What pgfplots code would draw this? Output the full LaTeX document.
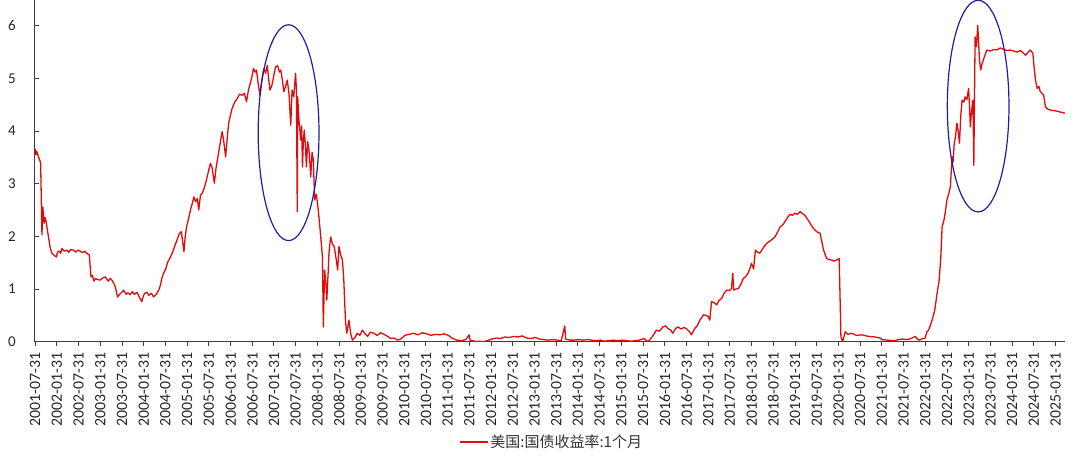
\documentclass[border=0pt]{standalone}
\usepackage{pgfplots}
\pgfplotsset{compat=1.18}
\usepackage{fontspec}
\setmainfont{Carlito}
\newfontfamily\cjk{Noto Sans CJK SC}
\definecolor{serred}{RGB}{226,10,10}
\definecolor{ellblue}{RGB}{30,30,165}
\definecolor{axgray}{RGB}{60,60,60}
\begin{document}
\begin{tikzpicture}
\useasboundingbox (-35pt,-117.3pt) rectangle (1045pt,341.7pt);
\begin{axis}[
  at={(0pt,0pt)}, anchor=south west,
  scale only axis, width=1030pt, height=341.7pt,
  xmin=2001.58, xmax=2025.30, ymin=0, ymax=6.49,
  axis x line*=bottom, axis y line*=left,
  axis line style={axgray, line width=1pt},
  tick align=inside, major tick length=4pt,
  tick style={axgray, line width=0.9pt},
  xtick style={yshift=-4pt},
  xtick={2001.583,2002.083,...,2025.1},
  xticklabels={2001-07-31,2002-01-31,2002-07-31,2003-01-31,2003-07-31,2004-01-31,2004-07-31,2005-01-31,2005-07-31,2006-01-31,2006-07-31,2007-01-31,2007-07-31,2008-01-31,2008-07-31,2009-01-31,2009-07-31,2010-01-31,2010-07-31,2011-01-31,2011-07-31,2012-01-31,2012-07-31,2013-01-31,2013-07-31,2014-01-31,2014-07-31,2015-01-31,2015-07-31,2016-01-31,2016-07-31,2017-01-31,2017-07-31,2018-01-31,2018-07-31,2019-01-31,2019-07-31,2020-01-31,2020-07-31,2021-01-31,2021-07-31,2022-01-31,2022-07-31,2023-01-31,2023-07-31,2024-01-31,2024-07-31,2025-01-31},
  xticklabel style={rotate=90, anchor=east, font=\fontsize{15.8}{17}\selectfont, text=black!85, inner sep=0pt, outer sep=0pt},
  ytick={0,1,2,3,4,5,6},
  yticklabel style={font=\fontsize{15}{17}\selectfont, text=black!85, inner sep=0pt, xshift=-19pt},
  /pgf/number format/assume math mode=true,
  xticklabel shift=11pt,
  legend style={at={(0.502,-0.2927)}, anchor=center, fill=none, draw=none,
    font=\fontsize{15}{17}\selectfont, inner sep=0pt},
  legend image code/.code={\fill[fill=serred] (0pt,-0.5pt) rectangle (27pt,0.5pt);},
]
\addplot[serred, line width=1.3pt, line join=round] coordinates {
(2001.58,3.67)(2001.60,3.55)(2001.62,3.62)(2001.66,3.51)(2001.69,3.45)(2001.71,3.39)(2001.74,2.03)(2001.76,2.56)(2001.79,2.25)(2001.81,2.36)(2001.83,2.31)(2001.86,2.15)(2001.89,1.99)(2001.93,1.78)(2001.97,1.68)(2002.02,1.64)(2002.07,1.61)(2002.10,1.70)(2002.14,1.72)(2002.17,1.68)(2002.20,1.77)(2002.25,1.72)(2002.31,1.74)(2002.36,1.70)(2002.40,1.75)(2002.46,1.74)(2002.52,1.70)(2002.57,1.74)(2002.62,1.72)(2002.68,1.69)(2002.72,1.72)(2002.77,1.68)(2002.83,1.65)(2002.87,1.23)(2002.90,1.26)(2002.94,1.15)(2002.97,1.20)(2003.02,1.18)(2003.08,1.17)(2003.14,1.21)(2003.20,1.23)(2003.27,1.15)(2003.31,1.20)(2003.35,1.17)(2003.40,1.10)(2003.43,1.04)(2003.48,0.85)(2003.53,0.90)(2003.58,0.94)(2003.62,0.98)(2003.68,0.90)(2003.72,0.93)(2003.77,0.89)(2003.82,0.95)(2003.87,0.90)(2003.93,0.94)(2003.98,0.85)(2004.04,0.76)(2004.08,0.88)(2004.12,0.93)(2004.16,0.94)(2004.20,0.88)(2004.26,0.92)(2004.31,0.85)(2004.37,0.90)(2004.43,0.98)(2004.47,1.08)(2004.50,1.20)(2004.54,1.30)(2004.59,1.38)(2004.63,1.50)(2004.70,1.61)(2004.75,1.70)(2004.80,1.82)(2004.85,1.93)(2004.90,2.05)(2004.95,2.09)(2005.01,1.71)(2005.04,2.00)(2005.07,2.18)(2005.12,2.35)(2005.16,2.50)(2005.20,2.62)(2005.24,2.75)(2005.28,2.66)(2005.32,2.72)(2005.35,2.50)(2005.39,2.78)(2005.43,2.82)(2005.47,2.90)(2005.51,3.01)(2005.57,3.22)(2005.62,3.39)(2005.66,3.30)(2005.71,3.01)(2005.75,3.30)(2005.78,3.45)(2005.83,3.70)(2005.89,3.99)(2005.92,3.85)(2005.97,3.51)(2006.01,3.90)(2006.04,4.15)(2006.08,4.30)(2006.12,4.43)(2006.18,4.55)(2006.24,4.62)(2006.29,4.70)(2006.35,4.68)(2006.40,4.72)(2006.45,4.56)(2006.50,4.80)(2006.54,4.91)(2006.58,5.05)(2006.61,5.19)(2006.65,5.12)(2006.68,5.16)(2006.72,4.90)(2006.76,4.68)(2006.80,4.95)(2006.85,5.19)(2006.89,5.10)(2006.93,5.25)(2006.96,5.00)(2006.99,4.78)(2007.03,4.85)(2007.06,4.97)(2007.09,5.10)(2007.12,5.22)(2007.17,5.24)(2007.21,5.12)(2007.24,5.16)(2007.28,4.95)(2007.31,4.75)(2007.35,4.85)(2007.39,4.97)(2007.43,4.70)(2007.47,4.11)(2007.50,4.78)(2007.54,4.65)(2007.58,5.10)(2007.60,4.80)(2007.62,2.47)(2007.63,4.65)(2007.66,4.20)(2007.70,3.83)(2007.72,4.10)(2007.74,3.32)(2007.76,3.80)(2007.78,4.02)(2007.81,3.70)(2007.83,3.32)(2007.86,3.80)(2007.89,3.64)(2007.91,3.40)(2007.93,3.13)(2007.96,3.60)(2007.99,3.45)(2008.02,2.69)(2008.06,2.80)(2008.10,2.53)(2008.14,2.18)(2008.17,1.90)(2008.20,1.61)(2008.22,0.28)(2008.25,1.36)(2008.28,1.10)(2008.30,0.79)(2008.33,1.30)(2008.35,1.68)(2008.37,1.85)(2008.39,1.99)(2008.43,1.85)(2008.47,1.81)(2008.51,1.60)(2008.55,1.36)(2008.58,1.81)(2008.62,1.65)(2008.66,1.55)(2008.69,1.20)(2008.71,0.79)(2008.73,0.40)(2008.76,0.16)(2008.81,0.41)(2008.85,0.15)(2008.89,0.03)(2008.95,0.08)(2009.00,0.16)(2009.06,0.12)(2009.12,0.22)(2009.18,0.15)(2009.24,0.10)(2009.30,0.18)(2009.39,0.16)(2009.46,0.12)(2009.54,0.17)(2009.62,0.14)(2009.70,0.10)(2009.78,0.06)(2009.85,0.07)
(2009.93,0.03)(2010.00,0.05)(2010.10,0.12)(2010.20,0.14)(2010.30,0.16)(2010.40,0.13)(2010.50,0.17)(2010.60,0.15)(2010.70,0.12)(2010.80,0.14)(2010.90,0.13)(2011.00,0.15)(2011.10,0.12)(2011.20,0.06)(2011.30,0.03)(2011.40,0.02)(2011.50,0.04)(2011.58,0.13)(2011.60,0.03)(2011.70,0.01)(2011.80,0.01)(2011.90,0.00)(2012.00,0.02)(2012.10,0.05)(2012.20,0.07)(2012.30,0.06)(2012.40,0.09)(2012.50,0.08)(2012.60,0.10)(2012.70,0.09)(2012.80,0.11)(2012.90,0.07)(2013.00,0.06)(2013.10,0.08)(2013.20,0.05)(2013.30,0.04)(2013.40,0.03)(2013.50,0.04)(2013.60,0.03)(2013.70,0.02)(2013.78,0.30)(2013.80,0.05)(2013.90,0.03)(2014.00,0.03)(2014.10,0.04)(2014.20,0.03)(2014.30,0.04)(2014.40,0.03)(2014.50,0.02)(2014.60,0.03)(2014.70,0.01)(2014.80,0.02)(2014.90,0.03)(2015.00,0.02)(2015.10,0.03)(2015.20,0.02)(2015.30,0.01)(2015.40,0.02)(2015.50,0.03)(2015.60,0.06)(2015.70,0.00)(2015.80,0.10)(2015.89,0.22)
(2015.96,0.20)(2016.04,0.28)(2016.10,0.30)(2016.16,0.25)(2016.22,0.22)(2016.27,0.16)(2016.33,0.25)(2016.39,0.28)(2016.46,0.24)(2016.52,0.27)(2016.58,0.25)(2016.64,0.20)(2016.70,0.13)(2016.77,0.25)(2016.83,0.30)(2016.89,0.41)(2016.93,0.45)(2016.97,0.51)(2017.03,0.50)(2017.08,0.48)(2017.12,0.41)(2017.16,0.76)(2017.22,0.74)(2017.28,0.70)(2017.33,0.78)(2017.39,0.82)(2017.45,0.92)(2017.51,0.98)(2017.57,0.97)(2017.62,1.01)(2017.65,1.30)(2017.67,0.98)(2017.72,1.00)(2017.78,1.01)(2017.84,1.10)(2017.89,1.20)(2017.95,1.24)(2018.00,1.30)(2018.04,1.38)(2018.08,1.49)(2018.13,1.38)(2018.17,1.74)(2018.22,1.70)(2018.27,1.68)(2018.35,1.78)(2018.43,1.87)(2018.52,1.92)(2018.62,1.99)(2018.68,2.08)(2018.74,2.18)(2018.80,2.22)(2018.85,2.28)(2018.91,2.36)(2018.97,2.42)(2019.02,2.40)(2019.08,2.44)(2019.14,2.42)(2019.20,2.47)(2019.26,2.43)(2019.31,2.40)(2019.37,2.33)(2019.43,2.25)(2019.48,2.18)(2019.54,2.12)(2019.60,2.08)(2019.66,2.06)(2019.70,1.90)(2019.74,1.74)(2019.78,1.65)(2019.81,1.58)(2019.87,1.56)(2019.93,1.55)(2019.98,1.53)(2020.04,1.55)(2020.10,1.58)(2020.14,0.09)(2020.18,0.00)(2020.24,0.19)(2020.30,0.14)(2020.39,0.16)(2020.50,0.12)(2020.62,0.13)(2020.78,0.10)(2020.93,0.09)(2021.04,0.07)
(2021.08,0.04)(2021.20,0.03)(2021.38,0.02)(2021.46,0.04)(2021.54,0.05)(2021.66,0.04)(2021.75,0.06)(2021.85,0.10)(2021.93,0.03)(2022.00,0.05)(2022.08,0.07)(2022.12,0.19)(2022.16,0.22)(2022.24,0.41)(2022.30,0.60)(2022.36,0.95)(2022.40,1.15)(2022.44,1.60)(2022.47,2.18)(2022.51,2.30)(2022.54,2.44)(2022.58,2.69)(2022.62,2.80)(2022.66,2.94)(2022.70,3.51)(2022.72,3.40)(2022.75,3.77)(2022.78,3.90)(2022.81,4.15)(2022.84,4.00)(2022.87,3.77)(2022.90,4.30)(2022.93,4.59)(2022.97,4.55)(2023.00,4.65)(2023.04,4.60)(2023.08,4.81)(2023.10,4.50)(2023.12,4.08)(2023.15,4.40)(2023.18,4.59)(2023.20,3.35)(2023.23,5.79)(2023.26,5.60)(2023.29,6.01)(2023.31,5.70)(2023.33,5.35)(2023.36,5.16)(2023.39,5.28)(2023.42,5.35)(2023.46,5.45)(2023.50,5.54)(2023.58,5.52)(2023.66,5.55)(2023.73,5.54)(2023.81,5.58)(2023.89,5.55)(2023.97,5.53)(2024.04,5.54)(2024.12,5.52)(2024.20,5.50)(2024.27,5.53)(2024.33,5.49)(2024.39,5.44)(2024.45,5.50)(2024.50,5.54)(2024.56,5.48)(2024.59,5.20)(2024.62,4.97)(2024.66,4.81)(2024.70,4.85)(2024.73,4.75)(2024.77,4.72)(2024.81,4.68)(2024.85,4.46)(2024.90,4.42)(2024.96,4.40)(2025.03,4.39)(2025.11,4.38)(2025.20,4.36)(2025.30,4.34)
};
\addlegendentry{{\cjk\color{black!80}美国:国债收益率:1个月}}
\draw[ellblue, line width=1.2pt] (axis cs:2007.42,3.97) ellipse [x radius=0.70, y radius=2.05];
\draw[ellblue, line width=1.2pt] (axis cs:2023.30,4.475) ellipse [x radius=0.71, y radius=2.01];
\end{axis}
\end{tikzpicture}
\end{document}
